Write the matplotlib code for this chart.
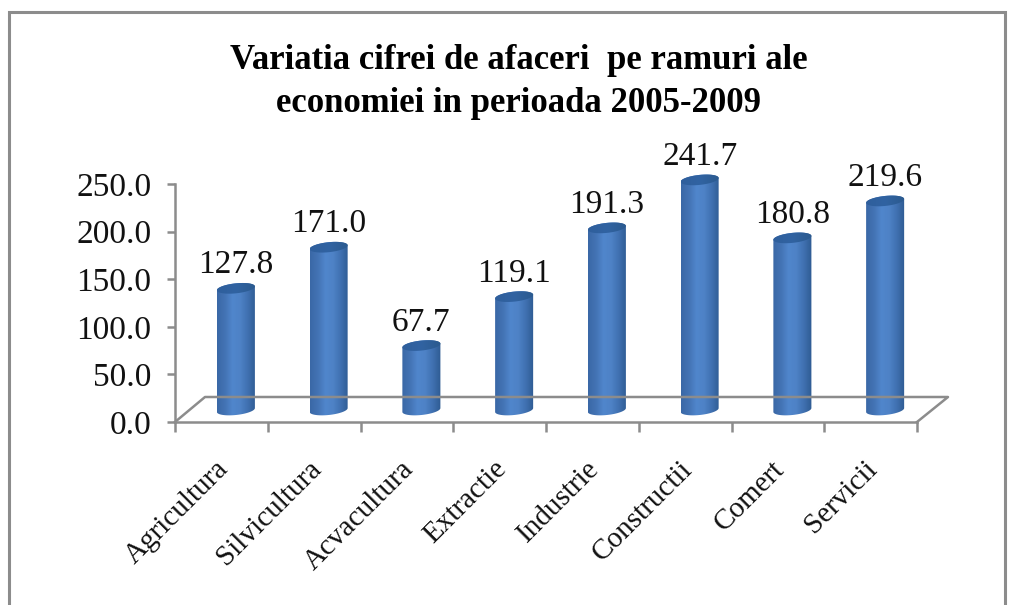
import numpy as np
import matplotlib
matplotlib.use('Agg')
import matplotlib.pyplot as plt
from matplotlib.colors import LinearSegmentedColormap
from matplotlib.patches import Polygon, Rectangle
from matplotlib.transforms import Affine2D, IdentityTransform

categorii = ['Agricultura', 'Silvicultura', 'Acvacultura', 'Extractie',
             'Industrie', 'Constructii', 'Comert', 'Servicii']
valori = [127.8, 171.0, 67.7, 119.1, 191.3, 241.7, 180.8, 219.6]
ticks_y = [0, 50, 100, 150, 200, 250]
titlu = 'Variatia cifrei de afaceri  pe ramuri ale\neconomiei in perioada 2005-2009'

W, H = 1013, 605
gri = '#8c8c8c'
plt.rcParams['font.family'] = ['Liberation Serif', 'DejaVu Serif']

fig = plt.figure(figsize=(W / 100, H / 100), dpi=100, facecolor='white')
fig.add_artist(Rectangle((9 / W, -0.01), 996 / W, 1.01 - 12 / H, transform=fig.transFigure,
                         fill=False, edgecolor=gri, linewidth=2.2))

ax = fig.add_axes([175 / W, (H - 422) / H, 742 / W, 238 / H])
ax.set_facecolor('none')
ax.set_xlim(0, len(categorii))
ax.set_ylim(0, 250)

# baza coloanelor e mutata spre "fundul" graficului 3D
mutare = ax.transData + Affine2D().translate(14.5, 12)

x = np.arange(len(categorii)) + 0.5
bare = ax.bar(x, valori, width=0.41, color='#4a7dbd', linewidth=0, transform=mutare, zorder=3)
ax.set_xlim(0, len(categorii))
ax.set_ylim(0, 250)

cmap = LinearSegmentedColormap.from_list('cilindru', ['#3a68a6', '#4373b4', '#5086cc', '#4e82c6', '#3f70b0', '#2f5b92'])
cmap_sus = LinearSegmentedColormap.from_list('capac', ['#2f5f9c', '#3163a2', '#2b5a8e'])
gradient = np.linspace(0, 1, 128).reshape(1, -1)
t = np.linspace(0, 2 * np.pi, 120)


def elipsa(cx, cy, a, b=5.0, panta=0.1):
    return np.column_stack([cx + a * np.cos(t), cy + a * panta * np.cos(t) + b * np.sin(t)])


for bara, val in zip(bare, valori):
    bara.set_visible(False)
    st = bara.get_x()
    dr = st + bara.get_width()
    cx = st + bara.get_width() / 2
    (x0, y0), (x1, y1) = mutare.transform([(st, 0), (dr, val)])
    a = (x1 - x0) / 2
    xc = (x0 + x1) / 2
    jos = elipsa(xc, y0, a)
    sus = elipsa(xc, y1, a)
    jos = jos[t >= np.pi]
    sus_arc = sus[t <= np.pi]
    corp = Polygon(np.vstack([jos, sus_arc]), transform=IdentityTransform())
    ax.add_patch(corp)
    corp.set_visible(False)
    im = ax.imshow(gradient, cmap=cmap, extent=[st, dr, -12, val + 12], aspect='auto',
                   transform=mutare, zorder=3, interpolation='bilinear')
    im.set_clip_box(fig.bbox)
    im.set_clip_path(corp)
    capac = Polygon(sus, transform=IdentityTransform())
    ax.add_patch(capac)
    capac.set_visible(False)
    im2 = ax.imshow(gradient, cmap=cmap_sus, extent=[st, dr, val - 12, val + 12], aspect='auto',
                    transform=mutare, zorder=4, interpolation='bilinear')
    im2.set_clip_box(fig.bbox)
    im2.set_clip_path(capac)
    ax.annotate(f'{val:.1f}', (cx, val), xycoords=mutare, xytext=(0, 8), textcoords='offset pixels',
                ha='center', va='bottom', fontsize=24, color='#111111', zorder=5)

ax.set_xlim(0, len(categorii))
ax.set_ylim(0, 250)

# podeaua 3D
x_px = ax.transData.transform([(0, 0), (len(categorii), 0)])
podea = np.array([x_px[0], x_px[0] + [30, 25], x_px[1] + [31, 25], x_px[1]])
fig.add_artist(plt.Line2D(podea[:, 0] / W, podea[:, 1] / H, transform=fig.transFigure,
                          color=gri, linewidth=1.8, zorder=1))

for s in ['top', 'right']:
    ax.spines[s].set_visible(False)
for s in ['left', 'bottom']:
    ax.spines[s].set_color(gri)
    ax.spines[s].set_linewidth(1.8)

ax.set_yticks(ticks_y)
ax.set_yticklabels([f'{v:.1f}' for v in ticks_y], fontsize=24, color='#111111')
ax.set_xticks(np.arange(len(categorii) + 1))
ax.set_xticklabels([''] * (len(categorii) + 1))
ax.tick_params(axis='y', length=6, width=1.8, color=gri, pad=11)
ax.tick_params(axis='x', length=7, width=1.8, color=gri)

for xc, nume in zip(x, categorii):
    ax.annotate(nume, (xc, 0), xycoords=ax.get_xaxis_transform(), xytext=(3, -43), textcoords='offset pixels',
                rotation=45, rotation_mode='anchor', ha='right', va='center', fontsize=21, color='#111111')

fig.text(519 / W, (H - 82) / H, titlu, ha='center', va='center', fontsize=25, fontweight='bold',
         color='black', linespacing=1.41)

fig.savefig('out.png', dpi=100, facecolor='white')
